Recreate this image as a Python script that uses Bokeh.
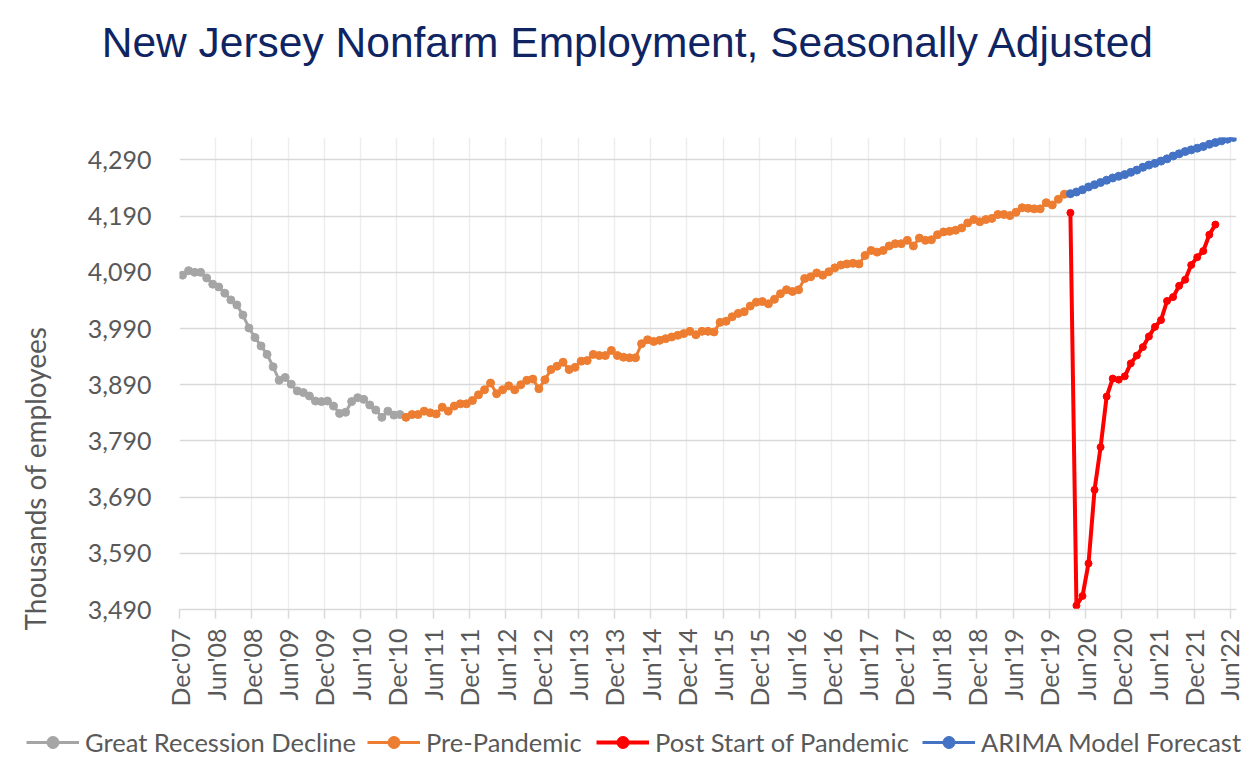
import math
from bokeh.plotting import figure
from bokeh.layouts import column, row
from bokeh.models import Range1d, FixedTicker, Legend, LegendItem, NumeralTickFormatter, Label, Grid
from bokeh.embed import file_html
from bokeh.resources import INLINE

# ---------------- data (thousands of employees, monthly, Dec 2007 = month 0) ----------------
tick_labels = ["Dec'07", "Jun'08", "Dec'08", "Jun'09", "Dec'09", "Jun'10", "Dec'10", "Jun'11",
               "Dec'11", "Jun'12", "Dec'12", "Jun'13", "Dec'13", "Jun'14", "Dec'14", "Jun'15",
               "Dec'15", "Jun'16", "Dec'16", "Jun'17", "Dec'17", "Jun'18", "Dec'18", "Jun'19",
               "Dec'19", "Jun'20", "Dec'20", "Jun'21", "Dec'21", "Jun'22"]
months_per_tick = 6
total_months = 175

y_ticks = [3490, 3590, 3690, 3790, 3890, 3990, 4090, 4190, 4290]

great_recession_start = 0
great_recession = [4085, 4093, 4090, 4090, 4080, 4069, 4064, 4053, 4041, 4032, 4014, 3991,
                   3974, 3959, 3944, 3922, 3898, 3903, 3891, 3879, 3876, 3870, 3861, 3860,
                   3861, 3852, 3839, 3841, 3860, 3867, 3864, 3854, 3845, 3832, 3843, 3836, 3837]

pre_pandemic_start = 37
pre_pandemic = [3832, 3837, 3837, 3843, 3840, 3838, 3850, 3843, 3852, 3856, 3856, 3862,
                3872, 3881, 3893, 3874, 3881, 3888, 3881, 3890, 3898, 3900, 3883, 3899,
                3917, 3923, 3930, 3917, 3921, 3932, 3933, 3944, 3942, 3942, 3951, 3942,
                3939, 3938, 3938, 3963, 3970, 3967, 3969, 3972, 3975, 3978, 3981, 3985,
                3979, 3985, 3985, 3984, 4001, 4003, 4011, 4017,
                4020, 4030, 4037, 4038, 4034, 4042, 4052, 4059, 4056, 4059, 4079, 4082,
                4089, 4085, 4091, 4098, 4103, 4105, 4106, 4105, 4120, 4129, 4126, 4129,
                4137, 4141, 4141, 4147, 4137, 4151, 4147, 4148, 4157, 4162, 4163, 4165,
                4169, 4178, 4184, 4180, 4184, 4186, 4193, 4193, 4191, 4197, 4205, 4204,
                4203, 4203, 4214, 4210, 4220, 4229]

post_pandemic_start = 147
post_pandemic = [4196, 3497, 3514, 3572, 3703, 3779, 3869, 3901, 3899, 3905, 3928, 3942,
                 3957, 3976, 3993, 4005, 4039, 4046, 4066, 4077, 4103, 4117, 4128, 4157, 4175]

arima_start = 147
arima_forecast = [4230, 4233, 4237, 4242, 4246, 4250, 4254, 4258, 4261, 4264, 4268, 4272,
                  4277, 4281, 4284, 4288, 4292, 4297, 4301, 4305, 4308, 4311, 4314, 4318,
                  4321, 4324, 4327, 4330]

series = [
    ("Great Recession Decline", great_recession_start, great_recession, "#A5A5A5"),
    ("Pre-Pandemic", pre_pandemic_start, pre_pandemic, "#ED7D31"),
    ("Post Start of Pandemic", post_pandemic_start, post_pandemic, "#FF0000"),
    ("ARIMA Model Forecast", arima_start, arima_forecast, "#4472C4"),
]

TEXT = "#595959"
FONT = "Lato"

TOTAL_W = 1243
TITLE_H = 100
MAIN_H = 611
LEGEND_H = 49
YLAB_W = 60


def blank(width, height):
    f = figure(width=width, height=height, output_backend="svg", toolbar_location=None,
               x_range=Range1d(0, 1), y_range=Range1d(0, 1),
               x_axis_location=None, y_axis_location=None)
    f.min_border = 0
    f.min_border_left = 0
    f.min_border_right = 0
    f.min_border_top = 0
    f.min_border_bottom = 0
    f.outline_line_color = None
    f.background_fill_color = "white"
    f.border_fill_color = "white"
    for g in f.select(type=Grid):
        g.visible = False
    return f


# ---------------- title strip ----------------
title_fig = blank(TOTAL_W - YLAB_W, TITLE_H)
title_fig.add_layout(Label(x=568, y=58, x_units="screen", y_units="screen",
                           text="New Jersey Nonfarm Employment, Seasonally Adjusted",
                           text_align="center", text_baseline="alphabetic",
                           text_font="Liberation Sans", text_font_size="42.5px",
                           text_color="#0F2462"))

# ---------------- y-axis title strip (spans title + chart height) ----------------
ylab_fig = blank(YLAB_W, TITLE_H + MAIN_H)
ylab_fig.add_layout(Label(x=34, y=233, x_units="screen", y_units="screen",
                          text="Thousands of employees", angle=math.pi / 2,
                          text_align="center", text_baseline="middle",
                          text_font=FONT, text_font_size="28px", text_color=TEXT))

# ---------------- main chart ----------------
p = figure(width=TOTAL_W - YLAB_W, height=MAIN_H, output_backend="svg", toolbar_location=None,
           x_range=Range1d(0, total_months), y_range=Range1d(3490, 4330))
p.min_border_left = 119
p.min_border_right = 7
p.min_border_top = 37
p.min_border_bottom = 102
p.outline_line_color = None
p.background_fill_color = "white"
p.border_fill_color = "white"

p.xaxis.ticker = FixedTicker(ticks=[k * months_per_tick for k in range(len(tick_labels))])
p.xaxis.major_label_overrides = {k * months_per_tick: lab for k, lab in enumerate(tick_labels)}
p.xaxis.major_label_orientation = math.pi / 2
p.xaxis.major_label_text_font = FONT
p.xaxis.major_label_text_font_size = "25px"
p.xaxis.major_label_text_color = TEXT
p.xaxis.major_label_standoff = 10
p.xaxis.axis_line_color = "#D9D9D9"
p.xaxis.axis_line_width = 1.5
p.xaxis.major_tick_line_color = "#D9D9D9"
p.xaxis.major_tick_line_width = 1.5
p.xaxis.major_tick_out = 9
p.xaxis.major_tick_in = 0
p.xaxis.minor_tick_line_color = None

p.yaxis.ticker = FixedTicker(ticks=y_ticks)
p.yaxis.formatter = NumeralTickFormatter(format="0,0")
p.yaxis.major_label_text_font = FONT
p.yaxis.major_label_text_font_size = "25px"
p.yaxis.major_label_text_color = TEXT
p.yaxis.major_label_standoff = 28
p.yaxis.axis_line_color = None
p.yaxis.major_tick_line_color = None
p.yaxis.major_tick_out = 0
p.yaxis.major_tick_in = 0
p.yaxis.minor_tick_line_color = None

p.ygrid.grid_line_color = "#D9D9D9"
p.ygrid.grid_line_width = 1.5
p.xgrid.grid_line_color = "#EDEDED"
p.xgrid.grid_line_width = 1.5

# ---------------- legend strip ----------------
legend_fig = blank(TOTAL_W, LEGEND_H)
legend_x = [26, 367, 596, 922]

for (name, start, vals, color), lx in zip(series, legend_x):
    xs = [start + k + 0.5 for k in range(len(vals))]
    lw = 4 if color == "#FF0000" else 3
    ms = 7 if color == "#FF0000" else 8
    p.line(xs, vals, line_color=color, line_width=lw, line_join="round")
    p.scatter(xs, vals, size=ms, fill_color=color, line_color=color)
    # legend keys: same series, styled alike; the strip's 0..1 ranges keep the data itself out of view
    kl = legend_fig.line(xs, vals, line_color=color, line_width=lw)
    ks = legend_fig.scatter(xs, vals, size=5, fill_color=color, line_color=color)
    lg = Legend(items=[LegendItem(label=name, renderers=[kl, ks])],
                location=(lx, 3), orientation="horizontal",
                padding=0, margin=0, spacing=0,
                glyph_width=53, glyph_height=30, label_standoff=6,
                background_fill_alpha=0, border_line_color=None,
                label_text_font=FONT, label_text_font_size="25.5px",
                label_text_color=TEXT)
    legend_fig.add_layout(lg)

layout = column(row(ylab_fig, column(title_fig, row(p))), legend_fig)

open("out.html", "w").write(file_html(layout, INLINE))
